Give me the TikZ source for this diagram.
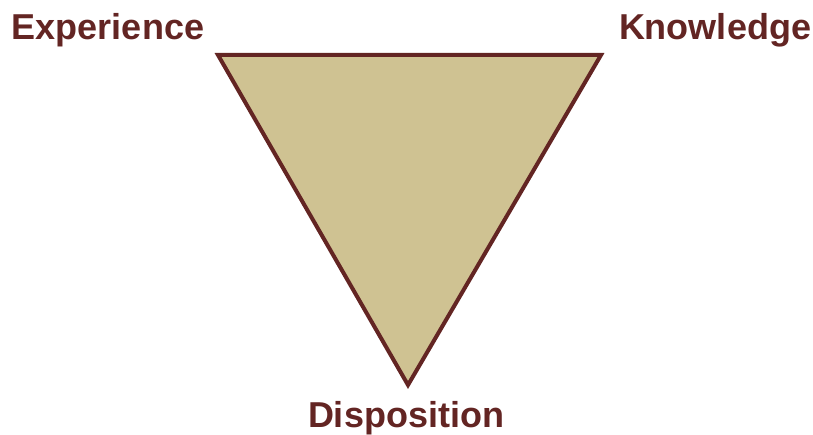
\documentclass[tikz,border=0pt]{standalone}
\usepackage{fontspec}
\setmainfont{Liberation Sans}
\usepackage{xcolor}
\usepackage{tikz}
\usetikzlibrary{positioning}

\definecolor{maroon}{HTML}{632523}
\definecolor{tan}{HTML}{CFC292}

\begin{document}
\begin{tikzpicture}[
  x=1pt, y=-1pt,
  label/.style={text=maroon, font=\fontsize{36}{42}\selectfont\bfseries, inner sep=0pt, anchor=base}
]
  \useasboundingbox (0,0) rectangle (813,435);

  % corners of the triangle
  \coordinate (tl) at (218,55);
  \coordinate (tr) at (601,55);
  \coordinate (bot) at (408,385);

  \filldraw[fill=tan, draw=maroon, line width=4pt, line join=miter] (tl) -- (tr) -- (bot) -- cycle;

  \node[label] (experience) at (108,40) {Experience};
  \node[label] (knowledge) at (715,40) {Knowledge};
  \node[label] (disposition) at (406,427) {Disposition};
\end{tikzpicture}
\end{document}
